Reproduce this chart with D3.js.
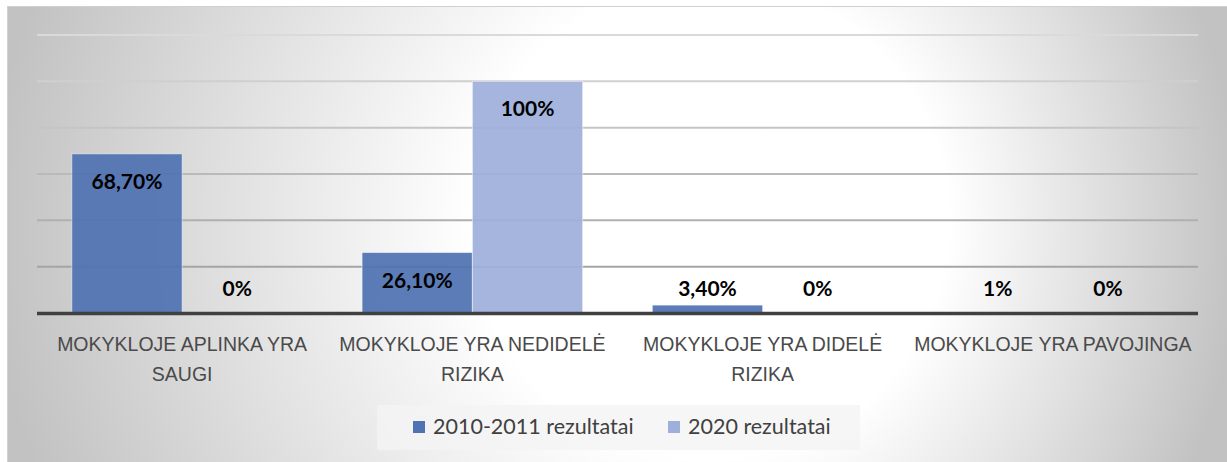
<!DOCTYPE html>
<html>
<head>
<meta charset="utf-8">
<script src="https://cdn.jsdelivr.net/npm/d3@7"></script>
<style>
  body { margin: 0; background: #fff; }
  svg { display: block; font-family: Lato, "Open Sans", sans-serif; }
</style>
</head>
<body>
<svg id="chart" width="1227" height="462"></svg>
<script>
/* Data */

const categories = [
    ['MOKYKLOJE APLINKA YRA', 'SAUGI'],
    ['MOKYKLOJE YRA NEDIDELĖ', 'RIZIKA'],
    ['MOKYKLOJE YRA DIDELĖ', 'RIZIKA'],
    ['MOKYKLOJE YRA PAVOJINGA']
];
const seriesNames = ['2010-2011 rezultatai', '2020 rezultatai'];
// the "1%" column draws no visible bar in the original (stored as 0.01)
const values2010 = [68.7, 26.1, 3.4, 0.01];
const values2020 = [0, 100, 0, 0];
const labels2010 = ['68,70%', '26,10%', '3,40%', '1%'];
const labels2020 = ['0%', '100%', '0%', '0%'];
const gridTicks = [0, 20, 40, 60, 80, 100, 120];

const colors = ['#4f72b2', '#9eafdb'];

/* Setup */

const svg = d3.select('#chart');
const W = 1227, H = 462;
const plot = { left: 37, right: 1198, top: 35, bottom: 313 };

const defs = svg.append('defs');

const bg = defs.append('radialGradient')
    .attr('id', 'bg')
    .attr('gradientUnits', 'userSpaceOnUse')
    .attr('cx', 614).attr('cy', 230).attr('r', 625)
    .attr('fx', 770).attr('fy', 215);
bg.append('stop').attr('offset', 0).attr('stop-color', '#ffffff');
bg.append('stop').attr('offset', 0.38).attr('stop-color', '#ffffff');
bg.append('stop').attr('offset', 0.72).attr('stop-color', '#dedede');
bg.append('stop').attr('offset', 1).attr('stop-color', '#c2c2c2');

const gridGrad = defs.append('linearGradient')
    .attr('id', 'gridGrad')
    .attr('gradientUnits', 'userSpaceOnUse')
    .attr('x1', 0).attr('y1', plot.top).attr('x2', 0).attr('y2', plot.bottom);
gridGrad.append('stop').attr('offset', 0).attr('stop-color', '#dadada');
gridGrad.append('stop').attr('offset', 1).attr('stop-color', '#9a9a9a');

svg.append('rect')
    .attr('x', 7.5).attr('y', 6.5)
    .attr('width', W).attr('height', H)
    .attr('fill', 'url(#bg)')
    .attr('stroke', '#d0d0d0');

/* Scales */

const y = d3.scaleLinear().domain([0, 120]).range([plot.bottom, plot.top]);
const x0 = d3.scaleBand()
    .domain(d3.range(categories.length))
    .range([plot.left, plot.right])
    .padding(0);
const x1 = d3.scaleBand()
    .domain([0, 1])
    .range([x0.bandwidth() * 0.12, x0.bandwidth() * 0.88])
    .padding(0);

/* Gridlines */

svg.append('g')
    .selectAll('line')
    .data(gridTicks.slice(1))
    .join('line')
    .attr('x1', plot.left).attr('x2', plot.right)
    .attr('y1', d => y(d)).attr('y2', d => y(d))
    .attr('stroke', 'url(#gridGrad)')
    .attr('stroke-width', 2);

/* Bars */

const series = [values2010, values2020];
const labels = [labels2010, labels2020];

const rows = [];
categories.forEach((c, i) => {
    series.forEach((s, j) => rows.push({ i, j, v: s[i], label: labels[j][i] }));
});

svg.append('g')
    .selectAll('rect')
    .data(rows.filter(d => y(0) - y(d.v) >= 1))
    .join('rect')
    .attr('x', d => x0(d.i) + x1(d.j))
    .attr('y', d => y(d.v))
    .attr('width', x1.bandwidth())
    .attr('height', d => y(0) - y(d.v))
    .attr('fill', d => colors[d.j])
    .attr('fill-opacity', 0.93)
    .attr('stroke', '#ffffff')
    .attr('stroke-opacity', 0.5)
    .attr('stroke-width', 1);

/* Baseline */

svg.append('line')
    .attr('x1', plot.left).attr('x2', plot.right)
    .attr('y1', y(0) + 0.5).attr('y2', y(0) + 0.5)
    .attr('stroke', '#404040')
    .attr('stroke-width', 3.5);

/* Data labels */

svg.append('g')
    .selectAll('text')
    .data(rows)
    .join('text')
    .attr('x', d => x0(d.i) + x1(d.j) + x1.bandwidth() / 2)
    .attr('y', d => Math.min(y(d.v) + 35, y(0) - 17))
    .attr('text-anchor', 'middle')
    .attr('font-size', 21)
    .attr('font-weight', 'bold')
    .attr('fill', '#000')
    .text(d => d.label);

/* Category axis */

const xAxis = svg.append('g')
    .attr('transform', `translate(0,${plot.bottom})`)
    .call(d3.axisBottom(x0).tickSize(0).tickFormat(''));
xAxis.select('.domain').remove();

xAxis.selectAll('.tick text').remove();
xAxis.selectAll('.tick')
    .append('text')
    .attr('text-anchor', 'middle')
    .attr('font-size', 19.5)
    .attr('fill', '#4a4a4a')
    .selectAll('tspan')
    .data(i => categories[i])
    .join('tspan')
    .attr('x', 0)
    .attr('y', (d, k) => 38 + k * 30)
    .text(d => d);

/* Legend */

const legend = svg.append('g');
legend.append('rect')
    .attr('x', 377).attr('y', 405)
    .attr('width', 483).attr('height', 45)
    .attr('fill', '#f4f4f4')
    .attr('fill-opacity', 0.8);

const legendX = [413, 668];
const item = legend.selectAll('g.item')
    .data(seriesNames)
    .join('g')
    .attr('class', 'item')
    .attr('transform', (d, i) => `translate(${legendX[i]},421)`);
item.append('rect')
    .attr('width', 12).attr('height', 12)
    .attr('fill', (d, i) => colors[i]);
item.append('text')
    .attr('x', 20).attr('y', 12.5)
    .attr('font-size', 21.5)
    .attr('fill', '#404040')
    .text(d => d);
</script>
</body>
</html>
